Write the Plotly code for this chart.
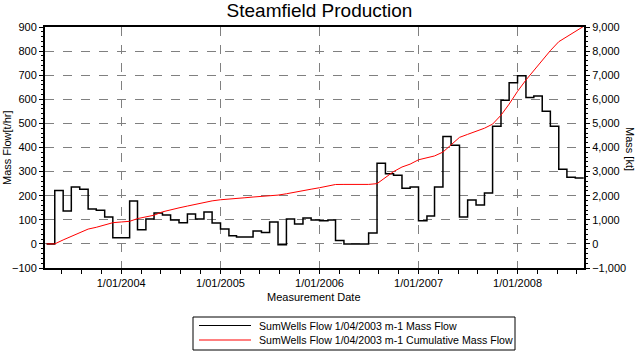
import plotly.graph_objects as go

# Month start dates (monthly data from 1/04/2003) plus the end of the last month
months = [
    "2003-04-01", "2003-05-01", "2003-06-01", "2003-07-01", "2003-08-01", "2003-09-01",
    "2003-10-01", "2003-11-01", "2003-12-01",
    "2004-01-01", "2004-02-01", "2004-03-01", "2004-04-01", "2004-05-01", "2004-06-01",
    "2004-07-01", "2004-08-01", "2004-09-01", "2004-10-01", "2004-11-01", "2004-12-01",
    "2005-01-01", "2005-02-01", "2005-03-01", "2005-04-01", "2005-05-01", "2005-06-01",
    "2005-07-01", "2005-08-01", "2005-09-01", "2005-10-01", "2005-11-01", "2005-12-01",
    "2006-01-01", "2006-02-01", "2006-03-01", "2006-04-01", "2006-05-01", "2006-06-01",
    "2006-07-01", "2006-08-01", "2006-09-01", "2006-10-01", "2006-11-01", "2006-12-01",
    "2007-01-01", "2007-02-01", "2007-03-01", "2007-04-01", "2007-05-01", "2007-06-01",
    "2007-07-01", "2007-08-01", "2007-09-01", "2007-10-01", "2007-11-01", "2007-12-01",
    "2008-01-01", "2008-02-01", "2008-03-01", "2008-04-01", "2008-05-01", "2008-06-01",
    "2008-07-01", "2008-08-01", "2008-09-01",
]

# Monthly mass flow [t/hr] (value held for the month; last value repeated to close the step)
mass_flow = [
    0, 222, 136, 236, 227, 145, 140, 112, 26,
    26, 178, 59, 103, 128, 120, 99, 88, 124, 103, 132, 87,
    62, 34, 29, 29, 54, 47, 91, -4, 103, 83, 107, 99,
    96, 99, 14, 0, 0, 0, 45, 335, 291, 285, 231, 236,
    96, 116, 236, 446, 409, 112, 182, 161, 211, 488, 596, 669,
    698, 607, 614, 550, 488, 310, 277, 273, 273,
]

# Cumulative mass [kt] at each month start
cumulative_mass = [
    0, 0, 165, 317, 490, 615, 689, 790, 880,
    910, 937, 1050, 1118, 1190, 1330, 1420, 1495, 1570, 1645, 1715, 1785,
    1832, 1870, 1890, 1915, 1945, 1965, 1990, 2025, 2080, 2150, 2210, 2270,
    2331, 2410, 2465, 2468, 2468, 2468, 2468, 2500, 2765, 3000, 3190, 3310,
    3490, 3570, 3650, 3810, 4130, 4420, 4545, 4660, 4800, 4970, 5340, 5800,
    6330, 6800, 7200, 7640, 8020, 8390, 8600, 8810, 9030,
]

series_names = [
    "SumWells Flow 1/04/2003 m-1 Mass Flow",
    "SumWells Flow 1/04/2003 m-1 Cumulative Mass Flow",
]
series_colors = ["black", "red"]

flow_ticks = list(range(-100, 1000, 100))
mass_ticks = list(range(-1000, 10000, 1000))
date_ticks = ["2004-01-01", "2005-01-01", "2006-01-01", "2007-01-01", "2008-01-01"]
date_labels = ["1/01/2004", "1/01/2005", "1/01/2006", "1/01/2007", "1/01/2008"]

FONT = "Arial, 'Liberation Sans', sans-serif"

fig = go.Figure()
fig.add_trace(go.Scatter(
    x=months, y=mass_flow, mode="lines",
    line=dict(color=series_colors[0], width=1.5, shape="hv"),
    name=series_names[0], yaxis="y", showlegend=False,
))
fig.add_trace(go.Scatter(
    x=months, y=cumulative_mass, mode="lines",
    line=dict(color=series_colors[1], width=1),
    name=series_names[1], yaxis="y2", showlegend=False,
))

L, R, T, B = 45, 55, 27, 84
W, H = 639, 352
pw, ph = W - L - R, H - T - B

def px(x):
    return (x - L) / pw

def py(y):
    return (H - B - y) / ph

# Hand-drawn legend box (matches the compact legend of the reference)
leg_box = (193, 317, 515, 350)
leg_rows = [325.5, 340]
shapes = [dict(type="rect", xref="paper", yref="paper",
               x0=px(leg_box[0]), x1=px(leg_box[2]), y0=py(leg_box[3]), y1=py(leg_box[1]),
               line=dict(color="black", width=1), fillcolor="white", layer="above")]
annotations = []
for name, color, ry in zip(series_names, series_colors, leg_rows):
    shapes.append(dict(type="line", xref="paper", yref="paper",
                       x0=px(199), x1=px(251), y0=py(ry), y1=py(ry),
                       line=dict(color=color, width=1), layer="above"))
    annotations.append(dict(text=name, xref="paper", yref="paper", x=px(257), y=py(ry),
                            showarrow=False, xanchor="left", yanchor="middle",
                            font=dict(size=10.6)))

annotations += [
    dict(text="Mass Flow[t/hr]", xref="paper", yref="paper", x=px(7), y=py(148),
         textangle=-90, showarrow=False, xanchor="center", yanchor="middle",
         font=dict(size=11)),
    dict(text="Mass [kt]", xref="paper", yref="paper", x=px(630), y=py(149),
         textangle=90, showarrow=False, xanchor="center", yanchor="middle",
         font=dict(size=11)),
    dict(text="Measurement Date", xref="paper", yref="paper", x=px(314), y=py(297),
         showarrow=False, xanchor="center", yanchor="middle", font=dict(size=11)),
]

fig.update_layout(
    width=W, height=H,
    margin=dict(l=L, r=R, t=T, b=B, pad=0, autoexpand=False),
    paper_bgcolor="white", plot_bgcolor="white",
    font=dict(family=FONT, size=11, color="black"),
    title=dict(text="Steamfield Production", x=0.5, xanchor="center",
               y=1 - 10 / H, yanchor="middle", font=dict(size=19, color="black", family=FONT)),
    showlegend=False,
    xaxis=dict(
        type="date", range=["2003-03-26", "2008-09-02"],
        tickvals=date_ticks, ticktext=date_labels,
        showgrid=True, gridcolor="#808080", griddash="dash", gridwidth=1,
        showline=True, linecolor="black", linewidth=2, mirror=True,
        ticks="outside", ticklen=4, tickcolor="black",
        minor=dict(dtick=6311520000, tick0="2004-01-01", ticks="outside", ticklen=4,
                   tickcolor="black", showgrid=False),
        zeroline=False, tickfont=dict(size=11), automargin=False,
    ),
    yaxis=dict(
        range=[-100, 900], tickvals=flow_ticks,
        showgrid=True, gridcolor="#808080", griddash="dash", gridwidth=1,
        showline=True, linecolor="black", linewidth=2,
        ticks="outside", ticklen=4, tickcolor="black",
        minor=dict(dtick=20, ticks="outside", ticklen=2, tickcolor="black", showgrid=False),
        zeroline=False, tickfont=dict(size=11), automargin=False,
    ),
    yaxis2=dict(
        range=[-1000, 9000], tickvals=mass_ticks, tickformat=",",
        overlaying="y", side="right", showgrid=False,
        showline=True, linecolor="black", linewidth=2,
        ticks="outside", ticklen=4, tickcolor="black",
        minor=dict(dtick=200, ticks="outside", ticklen=2, tickcolor="black", showgrid=False),
        zeroline=False, tickfont=dict(size=11), automargin=False,
    ),
    shapes=shapes,
    annotations=annotations,
)

fig.write_html("out.html")
